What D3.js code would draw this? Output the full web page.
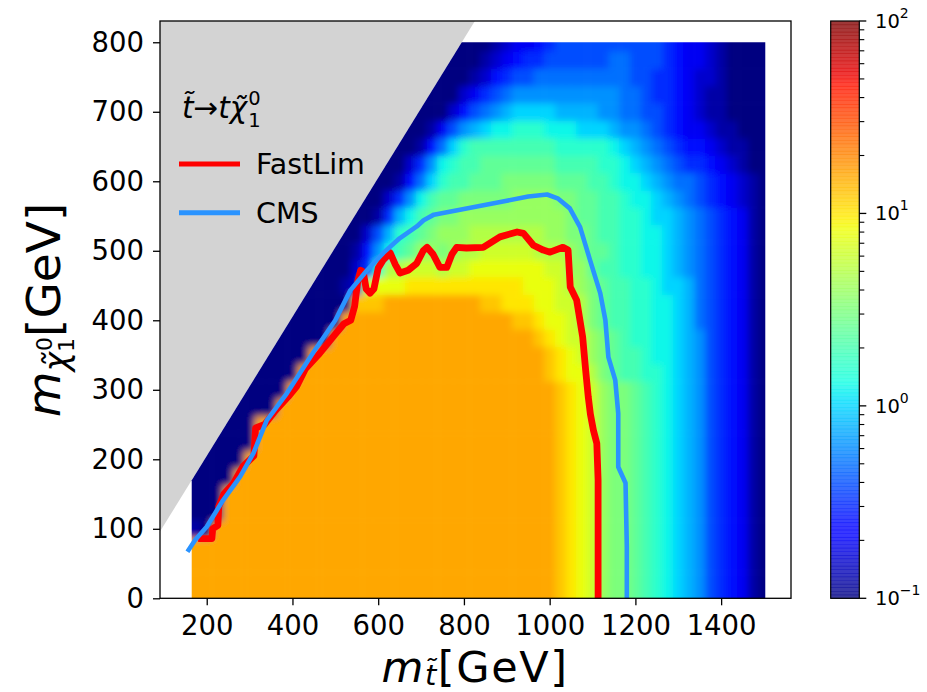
<!DOCTYPE html>
<html><head><meta charset="utf-8">
<script src="https://cdn.jsdelivr.net/npm/d3@7"></script>
<style>
body{margin:0;background:#fff}
text{font-family:'DejaVu Sans',sans-serif;fill:#000}
</style></head>
<body><svg id="c" width="927" height="692"></svg>
<script>
// ---------------- data ----------------
const xGrid = d3.range(175, 1501, 25);          // stop masses (54 columns)
const yGrid = d3.range(0, 801, 25);             // neutralino masses (33 rows)
// level code per cell: '0' = 10^-1.0, 'A' = 10^0.0, 'K' = 10^1.0 ... (0.1 dex steps); '.' = not scanned
const LEVELS = "0123456789ABCDEFGHIJKLMNOPQRSTU";
const rows = [ // y = 0 at first row, 25 GeV steps
"MMMMMMMMMMMMMMMMMMMMMMMMMMMMMMMMMMLKJIGFFEDCBA98654310",
"MMMMMMMMMMMMMMMMMMMMMMMMMMMMMMMMMMLKJIGFFEDCBA98654310",
"MMMMMMMMMMMMMMMMMMMMMMMMMMMMMMMMMMLKJIGFFEDCBA98654310",
"MMMMMMMMMMMMMMMMMMMMMMMMMMMMMMMMMMLKJIGFFEDCBA98654310",
"10MMMMMMMMMMMMMMMMMMMMMMMMMMMMMMMMLKJIGFFEDCBA98654310",
"000MMMMMMMMMMMMMMMMMMMMMMMMMMMMMMMLKJIGFFEDCBA98654310",
"000MMMMMMMMMMMMMMMMMMMMMMMMMMMMMMMLKJIGFFEDCBA98654310",
"0000MMMMMMMMMMMMMMMMMMMMMMMMMMMMMMLKJIGFFEDCBA98654310",
".0000MMMMMMMMMMMMMMMMMMMMMMMMMMMMMLKJIGFFEDCBA98654310",
"..0000MMMMMMMMMMMMMMMMMMMMMMMMMMMMLKJIGFFEDCBA98654310",
"...000MMMMMMMMMMMMMMMMMMMMMMMMMMMMLKJIGFFEDCBA98654310",
"....0000MMMMMMMMMMMMMMMMMMMMMMMMMMLKJIGFFEDCBA98654310",
".....0000MMMMMMMMMMMMMMMMMMMMMMMMMLKJIGFFEDCBA98654310",
"......0000MMMMMMMMMMMMMMMMMMMMMMMLKJJHFEDDCCBA98654310",
".......0000MMMMMMMMMMMMMMMMMMMMMMLKJIGFEDDCBBA98654310",
"........00000MMMMMMMMMMMMMMMMMMMLKJIIGFEDCCBBA98654310",
".........00000MMMMMMMMMMMMMMMMLLKJJIHFEDDCCBBA97654310",
"..........00000LLLMMMMMMMMMLLKKKJJIIHFEDDCCBBA97654310",
"...........00012IJJJKKKKKKKKKKKJJJIHGFEDDCCBAA97654310",
"............00025CHHIIIHIIJJJJJJJIIGGEDDCCBBA987654310",
".............00148BDEGGFGHHIIIIIHHHGFEEDCCBBA987654310",
"..............00269CDEFGGGHHHHHHHGGFFEDDCCBBA987654310",
"...............00159BDEFFGGGGGGGGGGFEEDDCCBAA987654310",
"................00258BDEEFFFFFGGGGFFEEDDCBBA9876543210",
".................00147ACDDEEEFFFFFEEEDDCBBA98776543210",
"..................00258BCDDEEEEEEEDDDDCCBA987655432100",
"...................00147ACDDDDDDDDCCCCCBA9876544321100",
"....................0013689ABBCCCBBBAAA988765433211000",
".....................000246789AAAA99998877665432110000",
"......................00023567888888888877655432110000",
".......................0001245667777777776655432210000",
"........................000123455666666776665433210000",
".........................00012334566666666665433210000"
];
// FastLim exclusion contour (red)
const fastX = [180,212,214,226,228,240,262,285,310,314,335,360,390,410,430,460,480,500,520,536,545,552,559,565,572,581,590,600,612,628,640,651,670,690,705,714,728,744,760,772,783,806,845,884,924,939,962,985,1001,1031,1043,1048,1063,1077,1084,1090,1095,1102,1110,1113,1113];
const fastY = [86,86,100,105,132,150,165,190,205,245,250,270,290,305,330,350,365,380,395,400,420,455,472,470,445,439,445,475,487,497,480,468,472,482,500,505,495,476,476,495,505,504,505,520,527,525,508,501,498,505,501,448,429,376,328,290,265,242,223,170,0];
// CMS exclusion contour (blue)
const cmsX = [155,173,200,238,278,309,340,387,450,500,535,574,612,650,690,706,730,800,900,950,994,1020,1047,1071,1094,1118,1130,1137,1153,1160,1160,1177,1180,1180];
const cmsY = [67,84,103,141,175,209,256,295,355,400,443,472,497,518,535,544,552,560,572,578,581,575,561,534,487,439,400,347,314,266,189,166,74,0];
// kinematically forbidden edge (grey) and scanned region
const forbiddenEdge = [[91,96],[826,831]];
const scanRegion = [[165,0],[165,170],[795,800],[1503,800],[1503,0]];
const xTicks = [200,400,600,800,1000,1200,1400];
const yTicks = [0,100,200,300,400,500,600,700,800];
const cbTicks = [0.1,1,10,100];
const cbExp = ["\u22121","0","1","2"];
const legendItems = [{name:"FastLim",color:"#ff0000"},{name:"CMS",color:"#2a93ff"}];

// ---------------- scales ----------------
const svg = d3.select("#c");
const xs = d3.scaleLinear().domain([91,1563]).range([160,791]);
const ys = d3.scaleLinear().domain([0,830.6]).range([598.3,21]);
const jr = d3.scaleLinear().domain([0,0.35,0.66,0.89,1]).range([0,0,1,1,0.5]).clamp(true);
const jg = d3.scaleLinear().domain([0,0.125,0.375,0.64,0.91,1]).range([0,0,1,1,0,0]).clamp(true);
const jb = d3.scaleLinear().domain([0,0.11,0.34,0.65,1]).range([0.5,1,1,0,0]).clamp(true);
const jet = t => `rgb(${Math.round(255*jr(t))},${Math.round(255*jg(t))},${Math.round(255*jb(t))})`;
const cnorm = d3.scaleLog().domain([0.1,100]).range([0,1]).clamp(true);

const defs = svg.append("defs");
defs.append("clipPath").attr("id","plotclip").append("rect")
  .attr("x",160).attr("y",21).attr("width",631).attr("height",577.3);
defs.append("clipPath").attr("id","scanclip").append("path")
  .attr("d", d3.line().x(d=>xs(d[0])).y(d=>ys(d[1]))(scanRegion)+"Z");
const f = defs.append("filter").attr("id","soft").attr("x","-5%").attr("y","-5%").attr("width","110%").attr("height","110%");
f.append("feGaussianBlur").attr("stdDeviation",3.6);

// grey forbidden region
const gx0 = xs.domain()[0], gy1 = ys.domain()[1];
const greyPoly = [[gx0, forbiddenEdge[0][1]], forbiddenEdge[1], [gx0, gy1]];
svg.append("path").attr("clip-path","url(#plotclip)")
  .attr("d", d3.line().x(d=>xs(d[0])).y(d=>ys(d[1]))(greyPoly)+"Z")
  .attr("fill","#d3d3d3");

// heat map
const cells = [];
rows.forEach((r,j)=>{
  for(let i=0;i<xGrid.length;i++){
    const ch = r[i];
    const v = ch==="." ? null : Math.pow(10, -1 + 0.1*LEVELS.indexOf(ch));
    cells.push({i,j,x:xGrid[i],y:yGrid[j],v});
  }
});
const heatOuter = svg.append("g").attr("clip-path","url(#scanclip)");
const heat = heatOuter.append("g").attr("filter","url(#soft)");
const half = 12.5, pad = 30;
heat.selectAll("rect").data(cells).join("rect")
  .attr("x", d => xs(d.x - half - (d.i===0?pad:0)))
  .attr("y", d => ys(d.y + half + (d.j===yGrid.length-1?pad:0)))
  .attr("width", d => xs(d.x + half + (d.i===xGrid.length-1?pad:0)) - xs(d.x - half - (d.i===0?pad:0)) + 0.6)
  .attr("height", d => ys(d.y - half - (d.j===0?pad:0)) - ys(d.y + half + (d.j===yGrid.length-1?pad:0)) + 0.6)
  .attr("fill", d => d.v===null ? jet(0) : jet(cnorm(d.v)));

// contours
const lg = svg.append("g").attr("clip-path","url(#plotclip)");
const line = d3.line().x(d=>xs(d[0])).y(d=>ys(d[1]));
lg.append("path").attr("d", line(fastX.map((x,k)=>[x,fastY[k]])))
  .attr("fill","none").attr("stroke","#ff0000").attr("stroke-width",6.8).attr("stroke-linejoin","round").attr("stroke-linecap","butt");
lg.append("path").attr("d", line(cmsX.map((x,k)=>[x,cmsY[k]])))
  .attr("fill","none").attr("stroke","#2a93ff").attr("stroke-width",4.6).attr("stroke-linejoin","round").attr("stroke-linecap","butt");

// axes
const xa = svg.append("g").attr("transform","translate(0,598.3)")
  .call(d3.axisBottom(xs).tickValues(xTicks).tickSize(7).tickPadding(10).tickFormat(d3.format("d")));
const ya = svg.append("g").attr("transform","translate(160,0)")
  .call(d3.axisLeft(ys).tickValues(yTicks).tickSize(7).tickPadding(9).tickFormat(d3.format("d")));
[xa,ya].forEach(a=>{
  a.select(".domain").remove();
  a.selectAll(".tick line").attr("stroke","#000").attr("stroke-width",1.3);
  a.selectAll(".tick text").attr("font-size",27.5).attr("font-family","'DejaVu Sans'").attr("fill","#000");
});
svg.append("rect").attr("x",160).attr("y",21).attr("width",631).attr("height",577.3)
  .attr("fill","none").attr("stroke","#000").attr("stroke-width",1.3);

// axis labels
const xl = svg.append("text").attr("x",475).attr("y",681.5).attr("text-anchor","middle")
  .attr("font-size",43).attr("letter-spacing",1.6);
xl.append("tspan").attr("font-style","italic").text("m");
xl.append("tspan").attr("font-style","italic").attr("font-size",29).attr("dy",3).text("t\u0303");
xl.append("tspan").attr("dy",-3).text("[GeV]");

const yl = svg.append("text").attr("transform","translate(60,310) rotate(-90)").attr("text-anchor","middle").attr("font-size",47);
yl.append("tspan").attr("font-style","italic").text("m");
yl.append("tspan").attr("font-style","italic").attr("font-size",33).attr("dy",8).text("\u03c7\u0303");
yl.append("tspan").attr("font-size",22).attr("dy",6).text("1");
yl.append("tspan").attr("font-size",22).attr("dx",-13).attr("dy",-22).text("0");
yl.append("tspan").attr("dy",8).text("[GeV]");

// legend
const lt = svg.append("text").attr("x",182).attr("y",118).attr("font-size",29.5);
lt.append("tspan").attr("font-style","italic").text("t\u0303");
lt.append("tspan").text("\u2192");
lt.append("tspan").attr("font-style","italic").text("t\u03c7\u0303");
const tEnd = 182 + lt.node().getComputedTextLength();
svg.append("text").attr("x",tEnd+1).attr("y",127).attr("font-size",19.5).text("1");
svg.append("text").attr("x",tEnd+1).attr("y",105).attr("font-size",19.5).text("0");
legendItems.forEach((it,k)=>{
  const yy = 164 + k*48.7;
  svg.append("line").attr("x1",179).attr("x2",240).attr("y1",yy).attr("y2",yy)
    .attr("stroke",it.color).attr("stroke-width",5);
  svg.append("text").attr("x",256).attr("y",yy+10).attr("font-size",28.5).text(it.name);
});

// colour bar
const cbx = 830.7, cbw = 28.6;
const cs = d3.scaleLog().domain([0.1,100]).range([598.3,21]);
const steps = d3.range(0,160);
svg.append("g").selectAll("rect").data(steps).join("rect")
  .attr("x",cbx).attr("width",cbw)
  .attr("y", k => cs(Math.pow(10,-1+3*(k+1)/160)))
  .attr("height", k => cs(Math.pow(10,-1+3*k/160)) - cs(Math.pow(10,-1+3*(k+1)/160)) + 0.5)
  .attr("fill", k => jet((k+0.5)/160)).attr("fill-opacity",0.78);
svg.append("rect").attr("x",cbx).attr("y",21).attr("width",cbw).attr("height",577.3)
  .attr("fill","none").attr("stroke","#000").attr("stroke-width",1.2);
const minor = [];
[0.1,1,10].forEach(b=>{ for(let m=2;m<=9;m++) minor.push(b*m); });
svg.append("g").selectAll("line").data(minor).join("line")
  .attr("x1",cbx+cbw).attr("x2",cbx+cbw+5).attr("y1",d=>cs(d)).attr("y2",d=>cs(d))
  .attr("stroke","#000").attr("stroke-width",1.1);
svg.append("g").selectAll("line").data(cbTicks).join("line")
  .attr("x1",cbx+cbw).attr("x2",cbx+cbw+7).attr("y1",d=>cs(d)).attr("y2",d=>cs(d))
  .attr("stroke","#000").attr("stroke-width",1.3);
cbTicks.forEach((t,k)=>{
  const tx = svg.append("text").attr("x",875).attr("y",cs(t)+7).attr("font-size",19.5);
  tx.append("tspan").text("10");
  tx.append("tspan").attr("font-size",14).attr("dy",-10).text(cbExp[k]);
});
</script></body></html>
